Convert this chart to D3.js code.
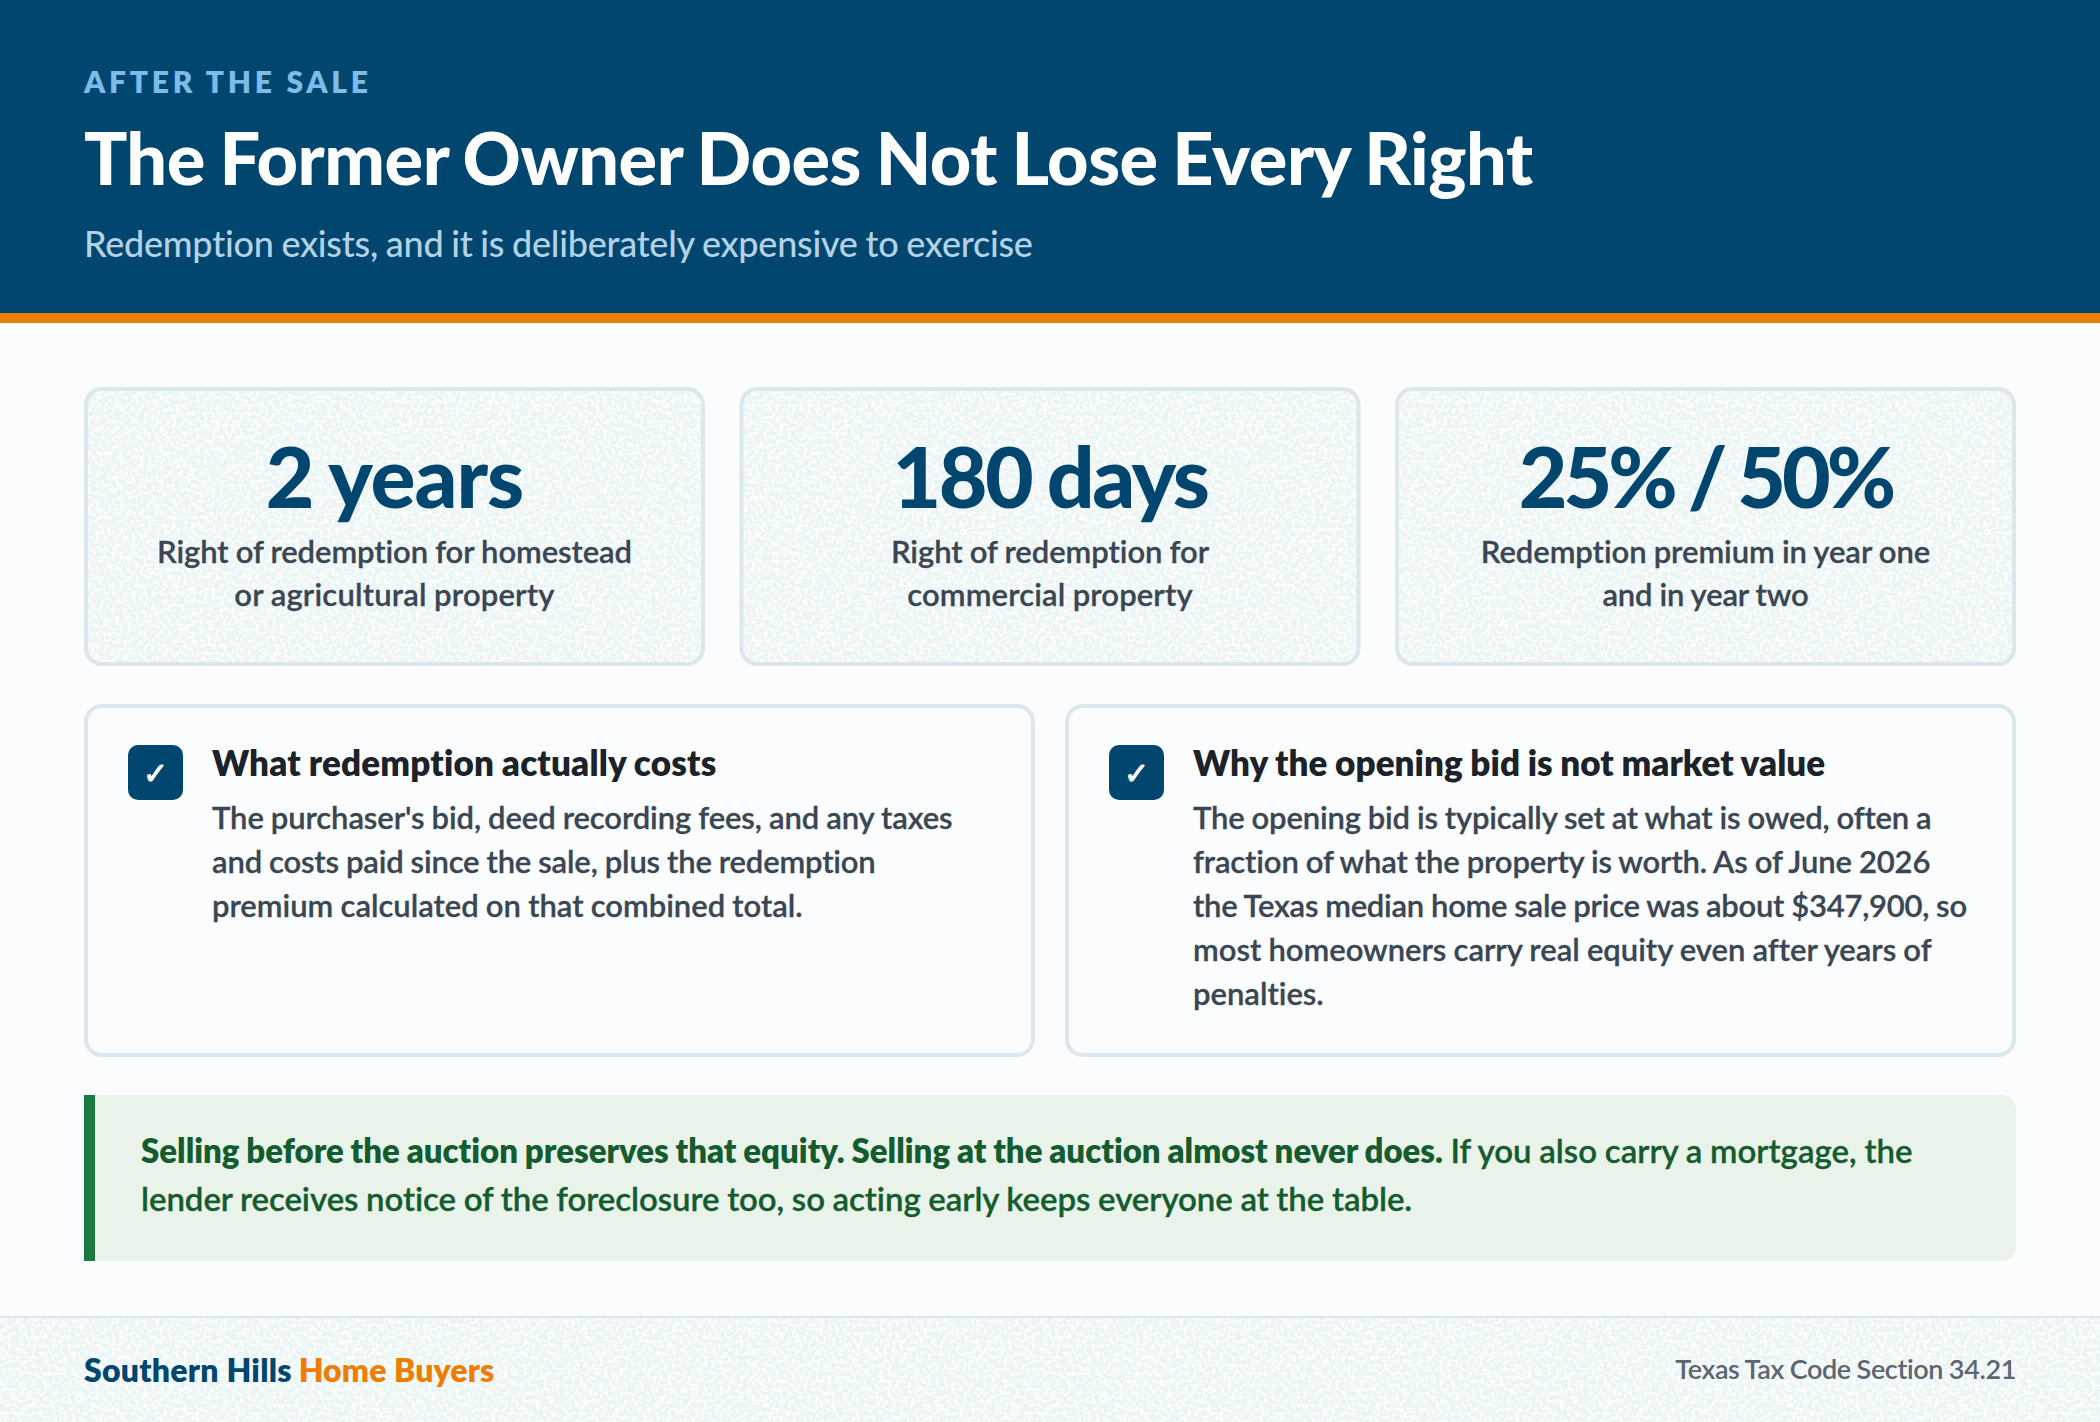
<!DOCTYPE html>
<html>
<head>
<meta charset="utf-8">
<script src="https://cdn.jsdelivr.net/npm/d3@7"></script>
<style>
  html, body { margin: 0; padding: 0; background: #fbfcfe; }
  svg { display: block; font-family: "Lato", sans-serif; }
</style>
</head>
<body>
<div id="chart"></div>
<script>
// Text content
var eyebrow = "AFTER THE SALE";
var title = "The Former Owner Does Not Lose Every Right";
var subtitle = "Redemption exists, and it is deliberately expensive to exercise";

var statValues = ["2 years", "180 days", "25% / 50%"];
var statLabels = [
  ["Right of redemption for homestead", "or agricultural property"],
  ["Right of redemption for", "commercial property"],
  ["Redemption premium in year one", "and in year two"]
];

var noteTitles = ["What redemption actually costs", "Why the opening bid is not market value"];
var noteLines = [
  ["The purchaser's bid, deed recording fees, and any taxes",
   "and costs paid since the sale, plus the redemption",
   "premium calculated on that combined total."],
  ["The opening bid is typically set at what is owed, often a",
   "fraction of what the property is worth. As of June 2026",
   "the Texas median home sale price was about $347,900, so",
   "most homeowners carry real equity even after years of",
   "penalties."]
];

var calloutBold = "Selling before the auction preserves that equity. Selling at the auction almost never does.";
var calloutRest = "If you also carry a mortgage, the";
var calloutLine2 = "lender receives notice of the foreclosure too, so acting early keeps everyone at the table.";

var brandA = "Southern Hills";
var brandB = "Home Buyers";
var source = "Texas Tax Code Section 34.21";

var svgWidth = 2100;
var svgHeight = 1422;
var navy = "#00466f";
var orange = "#ee7d04";
var lineColor = "#dce6ed";
var bodyColor = "#3a4652";

// line widths measured on the picture, used to tune the tracking of each line
var k = 2100 / 1568;
var statValueWidths = [193, 237, 282];
var statLabelWidths = [[355, 239], [238, 213], [336, 154]];
var noteTitleWidths = [377, 472];
var noteLineWidths = [[553, 496, 441], [551, 551, 578, 551, 98]];

var svg = d3.select("#chart").append("svg")
  .attr("width", svgWidth)
  .attr("height", svgHeight);

var defs = svg.append("defs");

// speckled paper texture for stat cards and footer
var filter = defs.append("filter")
  .attr("id", "speckle")
  .attr("x", 0).attr("y", 0).attr("width", "100%").attr("height", "100%")
  .attr("color-interpolation-filters", "sRGB");
filter.append("feTurbulence")
  .attr("type", "fractalNoise")
  .attr("baseFrequency", 0.25)
  .attr("numOctaves", 2)
  .attr("seed", 7);
filter.append("feColorMatrix")
  .attr("type", "matrix")
  .attr("values", "0 0 0 0 0.98  0 0 0 0 0.99  0 0 0 0 0.99  16 0 0 0 -7.9");

function texturedRect(group, x, y, w, h, r) {
  group.append("rect")
    .attr("x", x).attr("y", y).attr("width", w).attr("height", h).attr("rx", r)
    .attr("fill", "#ecf5f6");
  var clipId = "clip" + x + "_" + y;
  defs.append("clipPath").attr("id", clipId)
    .append("rect")
    .attr("x", x).attr("y", y).attr("width", w).attr("height", h).attr("rx", r);
  group.append("g")
    .attr("clip-path", `url(#${clipId})`)
    .append("rect")
    .attr("x", x).attr("y", y).attr("width", w).attr("height", h)
    .attr("filter", "url(#speckle)");
}

// w is the wanted width in picture units (1568 wide), spacing is adjusted to reach it
function addText(parent, x, y, str, size, weight, color, anchor, w, ws, thicken) {
  var t = parent.append("text")
    .attr("x", x)
    .attr("y", y)
    .attr("font-size", size)
    .attr("font-weight", weight)
    .attr("fill", color)
    .attr("text-anchor", anchor || "start")
    .attr("word-spacing", ws || 0)
    .text(str);
  if (thicken) {
    t.attr("stroke", color).attr("stroke-width", thicken);
  }
  if (w) {
    var len = t.node().getComputedTextLength();
    t.attr("letter-spacing", (w * k - len) / (str.length - 1));
  }
  return t;
}

// Page background
svg.append("rect").attr("width", svgWidth).attr("height", svgHeight).attr("fill", "#fbfcfe");

// Header
svg.append("rect").attr("width", svgWidth).attr("height", 313).attr("fill", navy);
svg.append("rect").attr("y", 313).attr("width", svgWidth).attr("height", 10).attr("fill", orange);
addText(svg, 84, 93, eyebrow, 30, 800, "#7cbce8", "start", 212);
addText(svg, 84, 185, title, 72, 900, "#ffffff", "start", 1082, -2);
addText(svg, 84, 257, subtitle, 36, 500, "#b3d2e6", "start", 709, -1);

// Stat cards
var statWidth = 621;
var statGap = 34.5;
var stats = svg.append("g");
statValues.forEach(function(v, i) {
  var x = 84 + i * (statWidth + statGap);
  var card = stats.append("g");
  texturedRect(card, x, 387, statWidth, 279, 18);
  card.append("rect")
    .attr("x", x + 2).attr("y", 389).attr("width", statWidth - 4).attr("height", 275)
    .attr("rx", 16).attr("fill", "none")
    .attr("stroke", lineColor).attr("stroke-width", 4);
  addText(card, x + statWidth / 2, 508, v, 84, 900, navy, "middle", statValueWidths[i], -2);
  statLabels[i].forEach(function(l, j) {
    addText(card, x + statWidth / 2, 563 + j * 42.5, l, 31, 600, bodyColor, "middle", statLabelWidths[i][j], -0.5, 0.3);
  });
});

// Note cards
var noteWidth = 951;
var notes = svg.append("g");
noteTitles.forEach(function(t, i) {
  var x = 84 + i * (noteWidth + 30);
  var card = notes.append("g");
  card.append("rect")
    .attr("x", x + 2).attr("y", 706).attr("width", noteWidth - 4).attr("height", 349)
    .attr("rx", 16).attr("fill", "#fbfcfe")
    .attr("stroke", lineColor).attr("stroke-width", 4);
  card.append("rect")
    .attr("x", x + 44).attr("y", 745).attr("width", 55).attr("height", 55)
    .attr("rx", 10).attr("fill", navy);
  addText(card, x + 71.5, 784, "\u2713", 30, 700, "#ffffff", "middle");
  addText(card, x + 128, 776, t, 35, 800, "#1b2329", "start", noteTitleWidths[i], -0.5);
  noteLines[i].forEach(function(l, j) {
    addText(card, x + 128, 829 + j * 44, l, 31, 600, bodyColor, "start", noteLineWidths[i][j], -0.5, 0.3);
  });
});

// Callout
var callout = svg.append("g");
callout.append("rect")
  .attr("x", 84).attr("y", 1095).attr("width", 1932).attr("height", 166)
  .attr("rx", 14).attr("fill", "#e9f3ea");
callout.append("rect")
  .attr("x", 84).attr("y", 1095).attr("width", 11).attr("height", 166)
  .attr("fill", "#1a7a40");
addText(callout, 141, 1163, calloutBold, 33, 800, "#145c2e", "start", 973, -0.8);
addText(callout, 1083 * k, 1163, calloutRest, 33, 600, "#145c2e", "start", 345, -0.5, 0.3);
addText(callout, 141, 1211, calloutLine2, 33, 600, "#145c2e", "start", 950, -0.5, 0.3);

// Footer
var footer = svg.append("g");
footer.append("rect").attr("y", 1317).attr("width", svgWidth).attr("height", 105).attr("fill", "#ecf5f6");
footer.append("rect").attr("y", 1317).attr("width", svgWidth).attr("height", 105).attr("filter", "url(#speckle)");
footer.append("rect").attr("y", 1316).attr("width", svgWidth).attr("height", 2).attr("fill", lineColor);
addText(footer, 84, 1382, brandA, 32, 800, navy, "start", 155);
addText(footer, 223 * k, 1382, brandB, 32, 800, orange, "start", 146);
addText(footer, 2016, 1379, source, 27, 600, "#5b6670", "end", 255, -0.5);
</script>
</body>
</html>
